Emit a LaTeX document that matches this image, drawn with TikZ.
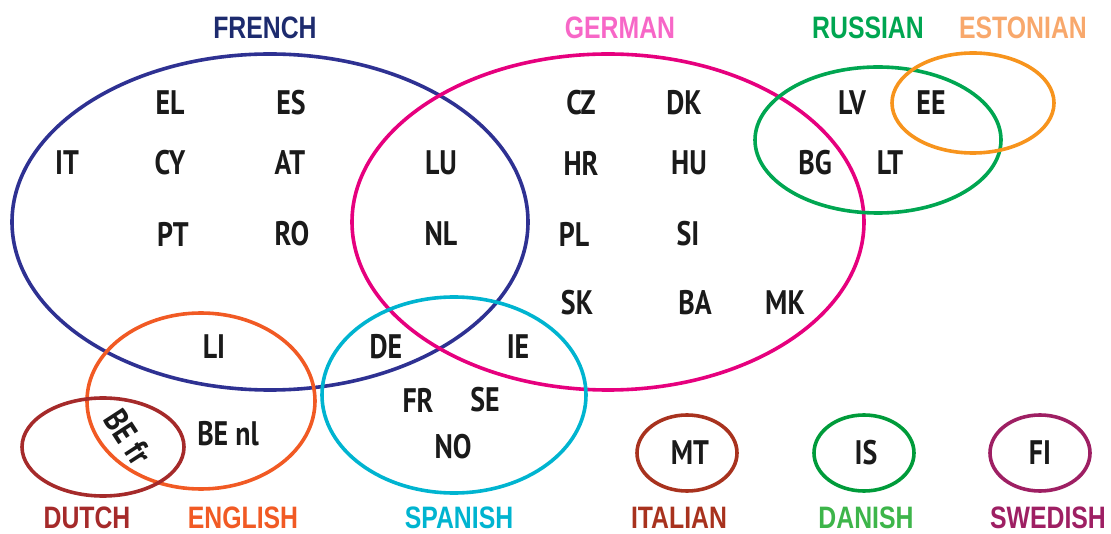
\documentclass[tikz,border=0pt]{standalone}
\usepackage{fontspec}
\usetikzlibrary{shapes.geometric}
\newfontfamily\langfont[FakeStretch=0.8]{Liberation Sans}
\newfontfamily\codefont[FakeStretch=0.82]{PT Sans}
\definecolor{cfr}{HTML}{2E3192}
\definecolor{cfrl}{HTML}{1D2B6E}
\definecolor{cde}{HTML}{E6007E}
\definecolor{cdel}{HTML}{F767C7}
\definecolor{cru}{HTML}{00A651}
\definecolor{cet}{HTML}{F7941D}
\definecolor{cetl}{HTML}{F8A86C}
\definecolor{cen}{HTML}{F15A24}
\definecolor{cnl}{HTML}{A52A2A}
\definecolor{ces}{HTML}{00B4D0}
\definecolor{cit}{HTML}{A8321E}
\definecolor{cda}{HTML}{009B3A}
\definecolor{cdal}{HTML}{3DB54A}
\definecolor{csv}{HTML}{9E1F63}
\definecolor{ctext}{HTML}{1A1A1A}
\tikzset{
  set/.style={ellipse, draw=#1, line width=3.6pt, inner sep=0pt},
  lang/.style={text=#1, font=\langfont\bfseries\fontsize{31}{31}\selectfont, inner sep=0pt},
  code/.style={text=ctext, font=\codefont\bfseries\fontsize{34}{34}\selectfont, inner sep=0pt},
}
\begin{document}
\begin{tikzpicture}[x=1pt,y=-1pt]
\useasboundingbox (0,0) rectangle (1111,534);
% sets
\node[set=cfr, minimum width=516pt, minimum height=336pt] (french) at (270,222) {};
\node[set=cde, minimum width=512pt, minimum height=336pt] (german) at (608,222) {};
\node[set=cru, minimum width=246pt, minimum height=146pt] (russian) at (878,140) {};
\node[set=cet, minimum width=162pt, minimum height=100pt] (estonian) at (973,103) {};
\node[set=cen, minimum width=228pt, minimum height=176pt] (english) at (201,401) {};
\node[set=cnl, minimum width=162pt, minimum height=98pt] (dutch) at (103,447) {};
\node[set=ces, minimum width=264pt, minimum height=196pt] (spanish) at (454,395) {};
\node[set=cit, minimum width=100pt, minimum height=76pt] (italian) at (687,453) {};
\node[set=cda, minimum width=100pt, minimum height=76pt] (danish) at (864,453) {};
\node[set=csv, minimum width=100pt, minimum height=76pt] (swedish) at (1040,453) {};
% language labels
\node[lang=cfrl] (lfr) at (265,28) {FRENCH};
\node[lang=cdel] (lde) at (620,28) {GERMAN};
\node[lang=cru] (lru) at (868,28) {RUSSIAN};
\node[lang=cetl] (let) at (1023,28) {ESTONIAN};
\node[lang=cnl] (lnl) at (87,518) {DUTCH};
\node[lang=cen] (len) at (243,518) {ENGLISH};
\node[lang=ces] (les) at (459,518) {SPANISH};
\node[lang=cit] (lit) at (679,518) {ITALIAN};
\node[lang=cdal] (lda) at (866,518) {DANISH};
\node[lang=csv] (lsv) at (1048,518) {SWEDISH};
% country codes
\node[code] (EL) at (170,103) {EL};
\node[code] (ES) at (291,103) {ES};
\node[code] (IT) at (67,163) {IT};
\node[code] (CY) at (170,163) {CY};
\node[code] (AT) at (290,163) {AT};
\node[code] (LU) at (441,163) {LU};
\node[code] (PT) at (173,234) {PT};
\node[code] (RO) at (292,234) {RO};
\node[code] (NL) at (441,234) {NL};
\node[code] (CZ) at (581,103) {CZ};
\node[code] (DK) at (684,103) {DK};
\node[code] (HR) at (581,163) {HR};
\node[code] (HU) at (689,163) {HU};
\node[code] (PL) at (574,234) {PL};
\node[code] (SI) at (688,234) {SI};
\node[code] (SK) at (577,303) {SK};
\node[code] (BA) at (695,303) {BA};
\node[code] (MK) at (785,303) {MK};
\node[code] (LV) at (852,103) {LV};
\node[code] (EE) at (931,103) {EE};
\node[code] (BG) at (815,163) {BG};
\node[code] (LT) at (890,163) {LT};
\node[code] (LI) at (214,347) {LI};
\node[code] (DE) at (386,347) {DE};
\node[code] (IE) at (518,347) {IE};
\node[code] (FR) at (418,400) {FR};
\node[code] (SE) at (485,400) {SE};
\node[code] (NO) at (453,447) {NO};
\node[code] (BEnl) at (228,434) {BE nl};
\node[code, rotate=-57] (BEfr) at (128,437) {BE fr};
\node[code] (MT) at (690,453) {MT};
\node[code] (IS) at (866,453) {IS};
\node[code] (FI) at (1040,453) {FI};
\end{tikzpicture}
\end{document}
